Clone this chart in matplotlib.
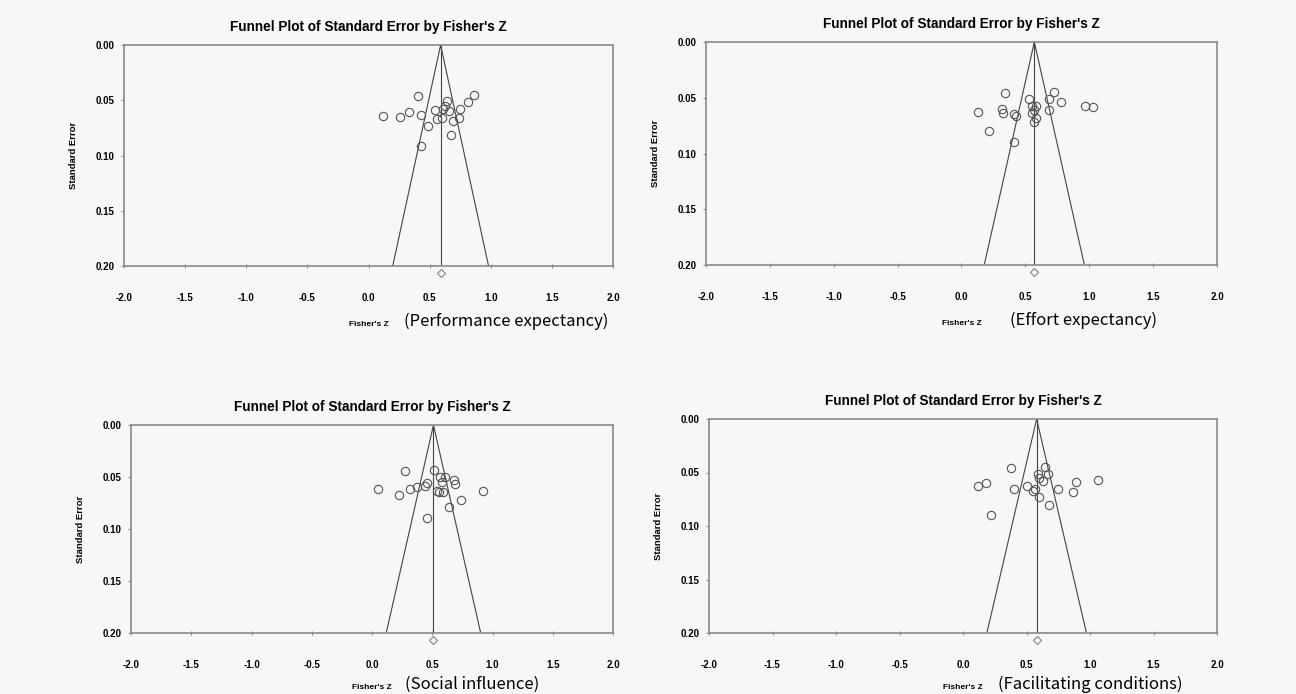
import matplotlib
matplotlib.use('Agg')
import matplotlib.pyplot as plt
from matplotlib.ticker import FormatStrFormatter

# Fisher's Z and standard error of each study
pe_z = [0.407, 0.863, 0.121, 0.258, 0.334, 0.430, 0.489, 0.430, 0.544, 0.558,
        0.599, 0.612, 0.626, 0.645, 0.659, 0.672, 0.691, 0.740, 0.746, 0.811]
pe_se = [0.046, 0.045, 0.064, 0.065, 0.061, 0.063, 0.073, 0.091, 0.059, 0.067,
         0.066, 0.058, 0.055, 0.051, 0.060, 0.081, 0.069, 0.066, 0.058, 0.052]

ee_z = [0.338, 0.724, 0.777, 0.683, 0.526, 0.127, 0.317, 0.322, 0.411, 0.427,
        0.218, 0.409, 0.555, 0.583, 0.549, 0.568, 0.583, 0.570, 0.687, 0.967, 1.030]
ee_se = [0.046, 0.045, 0.054, 0.051, 0.051, 0.063, 0.060, 0.064, 0.065, 0.066,
         0.080, 0.090, 0.057, 0.057, 0.064, 0.061, 0.068, 0.072, 0.061, 0.057, 0.058]

si_z = [0.271, 0.512, 0.047, 0.227, 0.313, 0.371, 0.437, 0.454, 0.564, 0.608,
        0.581, 0.680, 0.691, 0.542, 0.559, 0.587, 0.739, 0.641, 0.459, 0.921]
si_se = [0.044, 0.043, 0.062, 0.067, 0.062, 0.060, 0.059, 0.056, 0.050, 0.050,
         0.055, 0.053, 0.057, 0.063, 0.064, 0.064, 0.072, 0.079, 0.089, 0.063]

fc_z = [0.381, 0.646, 0.669, 0.593, 0.596, 0.628, 0.118, 0.184, 0.399, 0.504,
        0.564, 0.551, 0.596, 0.750, 0.677, 0.866, 0.890, 1.065, 0.220]
fc_se = [0.046, 0.045, 0.051, 0.051, 0.055, 0.058, 0.063, 0.060, 0.065, 0.063,
         0.065, 0.067, 0.073, 0.065, 0.080, 0.068, 0.059, 0.057, 0.090]

means = [0.59, 0.57, 0.51, 0.58]
names = ['(Performance expectancy)', '(Effort expectancy)',
         '(Social influence)', '(Facilitating conditions)']

x_ticks = [-2.0, -1.5, -1.0, -0.5, 0.0, 0.5, 1.0, 1.5, 2.0]
y_ticks = [0.00, 0.05, 0.10, 0.15, 0.20]

W, H = 1296, 694
bg = '#f7f7f7'
fig = plt.figure(figsize=(W / 100, H / 100), dpi=100, facecolor=bg)
plt.rcParams['font.family'] = ['Liberation Sans', 'DejaVu Sans']

# axes boxes in pixels: left, top, right, bottom
boxes = [(124, 45, 613, 266), (706, 42, 1217, 265),
         (131, 425, 613, 633), (709, 419, 1217, 633)]
# where the big label starts (pixels) and its vertical centre
name_pos = [(404, 321), (1010, 320), (405, 684), (998, 684)]

data = [(pe_z, pe_se), (ee_z, ee_se), (si_z, si_se), (fc_z, fc_se)]
grey = '#8a8a8a'

for i in range(4):
    l, t, r, b = boxes[i]
    ax = fig.add_axes([l / W, 1 - b / H, (r - l) / W, (b - t) / H])
    ax.set_facecolor(bg)
    z, se = data[i]
    m = means[i]

    # funnel and mean line
    ax.plot([m - 1.96 * 0.2, m, m + 1.96 * 0.2], [0.2, 0.0, 0.2],
            color='#444444', lw=0.8, zorder=2)
    ax.plot([m, m], [0.0, 0.2], color='#444444', lw=0.8, zorder=2)
    ax.plot(z, se, 'o', ms=6, mfc='none', mec='#555555', mew=0.8, zorder=3)
    ax.plot([m], [0.2065], 'D', ms=4, mfc='none', mec='#777777', mew=0.7,
            clip_on=False, zorder=3)

    ax.set_xlim(-2.0, 2.0)
    ax.set_ylim(0.2, 0.0)
    ax.set_xticks(x_ticks)
    ax.set_yticks(y_ticks)
    ax.xaxis.set_major_formatter(FormatStrFormatter('%.1f'))
    ax.yaxis.set_major_formatter(FormatStrFormatter('%.2f'))
    ax.tick_params(axis='x', direction='inout', length=3, width=0.8,
                   color=grey, pad=18, labelsize=7)
    ax.tick_params(axis='y', direction='out', length=2, width=0.8,
                   color=grey, pad=5, labelsize=7)
    for lab in ax.get_xticklabels() + ax.get_yticklabels():
        lab.set_fontweight('bold')
    for s in ax.spines.values():
        s.set_color(grey)
        s.set_linewidth(1.2)

    ax.set_title("Funnel Plot of Standard Error by Fisher's Z",
                 fontsize=9.8, fontweight='bold', pad=10)
    ax.set_ylabel('Standard Error', fontsize=6.8, fontweight='bold')
    ax.yaxis.set_label_coords(-46 / (r - l), 0.5)
    ax.set_xlabel("Fisher's Z", fontsize=6, fontweight='bold')
    ax.xaxis.set_label_coords(0.5, -(name_pos[i][1] - b) / (b - t))

    nx, ny = name_pos[i]
    fig.text(nx / W, 1 - ny / H, names[i], fontsize=12, fontweight='medium',
             family=['Noto Sans CJK KR', 'DejaVu Sans'], va='center', ha='left')

fig.savefig('out.png', dpi=100, facecolor=bg)
